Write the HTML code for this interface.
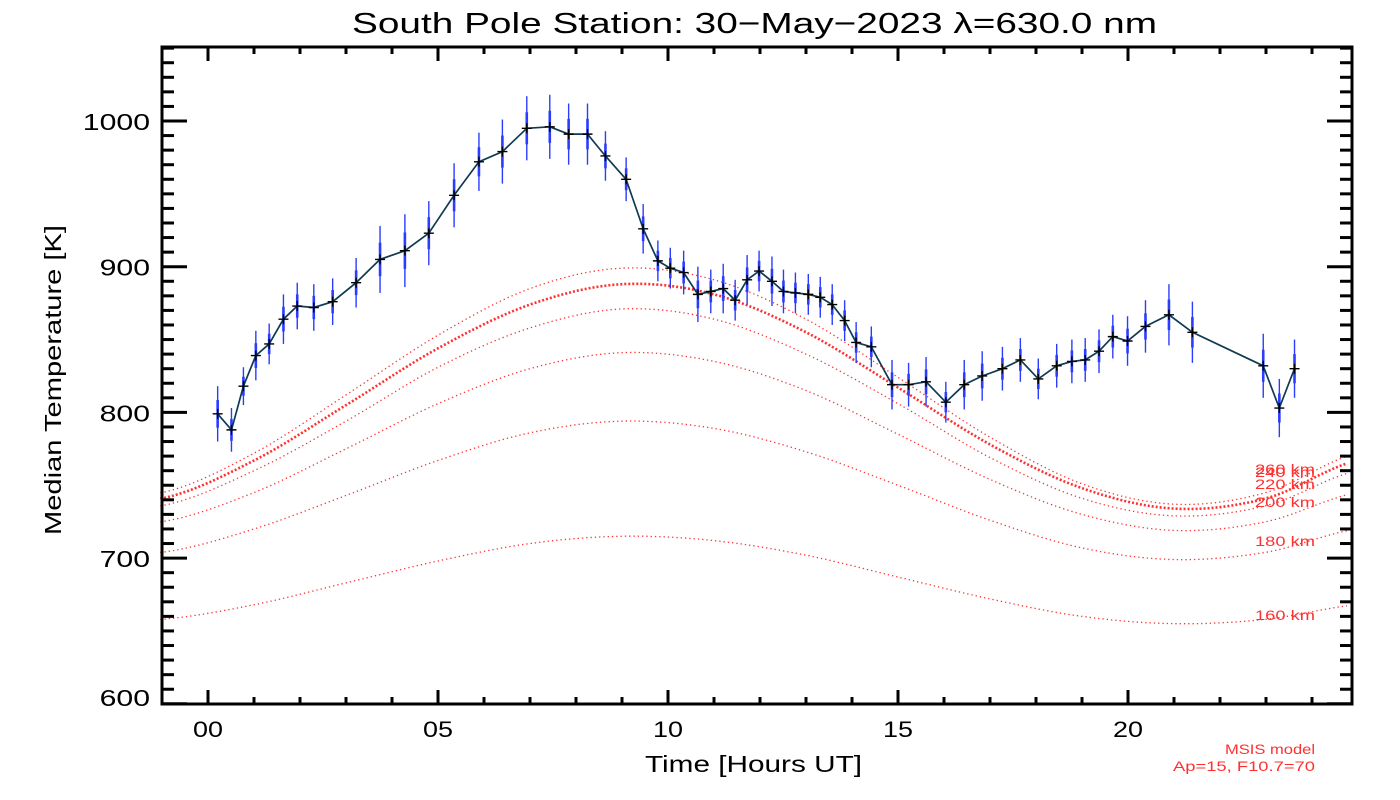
<!DOCTYPE html>
<html><head><meta charset="utf-8"><style>
html,body{margin:0;padding:0;background:#fff;}
svg{display:block;font-family:"Liberation Sans",sans-serif;}
</style></head><body>
<svg id="chart" width="1400" height="800" viewBox="0 0 1400 800" xmlns="http://www.w3.org/2000/svg">
<text x="352" y="33" font-size="29" textLength="805" lengthAdjust="spacingAndGlyphs" fill="#000">South Pole Station: 30−May−2023 λ=630.0 nm</text>
<text transform="translate(61,380) rotate(-90)" font-size="23" text-anchor="middle" textLength="310" lengthAdjust="spacingAndGlyphs" fill="#000">Median Temperature [K]</text>
<text x="645" y="772" font-size="23" textLength="217" lengthAdjust="spacingAndGlyphs" fill="#000">Time [Hours UT]</text>
<text x="1225" y="754" font-size="14" textLength="90" lengthAdjust="spacingAndGlyphs" fill="#ff3030">MSIS model</text>
<text x="1173" y="771" font-size="14" textLength="142" lengthAdjust="spacingAndGlyphs" fill="#ff3030">Ap=15, F10.7=70</text>
<g id="models"></g><g id="data"></g><g id="axes"></g>
</svg>
<script>
const hours=[0.21,0.51,0.77,1.04,1.33,1.64,1.94,2.30,2.71,3.22,3.74,4.28,4.80,5.35,5.89,6.40,6.93,7.43,7.84,8.25,8.64,9.09,9.46,9.78,10.05,10.34,10.65,10.93,11.20,11.46,11.72,11.98,12.26,12.51,12.77,13.05,13.31,13.57,13.84,14.09,14.42,14.87,15.23,15.61,16.04,16.44,16.83,17.27,17.66,18.05,18.45,18.78,19.07,19.37,19.67,19.99,20.38,20.89,21.40,22.94,23.29,23.62];
const temps=[799,788,818,839,847,864,873,872,876,889,905,911,923,949,972,979,995,996,991,991,976,960,926,904,899,896,881,883,885,877,891,897,890,883,882,881,879,874,863,848,845,819,819,821,807,819,825,830,836,823,832,835,836,842,852,849,859,867,855,832,803,830];
const errs=[19,15,13,17,14,17,16,16,16,17,23,25,22,22,20,22,22,22,21,21,17,15,17,14,14,15,19,15,17,14,17,14,17,15,14,14,14,14,14,14,14,17,15,17,14,17,17,15,15,14,15,15,15,15,15,17,18,21,21,22,20,20];
const modelHours=[-1,1,3,5,7,9,11,13,15,17,19,21,23,25];
const m160=[658,668,683,698,710,715,712,702,687,672,660,655,658,668];
const m180=[704,720,743,767,786,794,789,773,750,726,707,699,704,720];
const m200=[725,745,775,806,830,841,835,815,785,754,730,719,725,745];
const m220=[736,760,794,831,858,871,864,840,806,769,741,729,736,760];
const m240=[741,767,805,844,874,888,881,855,817,778,748,734,741,767];
const m260=[745,772,812,853,885,899,891,864,824,783,751,737,745,772];
const modelLabels=["160 km","180 km","200 km","220 km","240 km","260 km"];
const xTicks=["00","05","10","15","20"];
const yTicks=[600,700,800,900,1000];

const NS="http://www.w3.org/2000/svg";
const L=162,R=1352,T=47,B=704;
function xs(h){return 208+46*h;}
function ys(t){return 121+(1000-t)*1.457;}
function mk(tag,attrs,parent){const e=document.createElementNS(NS,tag);for(const k in attrs)e.setAttribute(k,attrs[k]);parent.appendChild(e);return e;}

const mg=document.getElementById('models');
const models=[m160,m180,m200,m220,m240,m260];
const labelY=[615,541,502,484,472,469];
models.forEach((vals,i)=>{
  const pts=[];
  for(let h=-1.04;h<=24.85;h+=0.1){
    let k=Math.min(modelHours.length-2,Math.max(0,Math.floor((h+1)/2)));
    const t=(h-modelHours[k])/2;
    const p0=vals[Math.max(0,k-1)],p1=vals[k],p2=vals[k+1],p3=vals[Math.min(vals.length-1,k+2)];
    const v=0.5*((2*p1)+(-p0+p2)*t+(2*p0-5*p1+4*p2-p3)*t*t+(-p0+3*p1-3*p2+p3)*t*t*t);
    pts.push(xs(h).toFixed(1)+','+ys(v).toFixed(1));
  }
  const pl=mk('polyline',{points:pts.join(' '),fill:'none',stroke:'#ff3030','stroke-width':i===4?2.6:1.3,'stroke-dasharray':i===4?'2 2':'1.3 3'},mg);
  
  
  const tx=mk('text',{x:1255,y:labelY[i]+5,'font-size':14,textLength:60,lengthAdjust:'spacingAndGlyphs',fill:'#ff3030'},mg);
  tx.textContent=modelLabels[i];
  
  
});

const dg=document.getElementById('data');
hours.forEach((h,i)=>{
  const x=xs(h);
  const b=mk('line',{x1:x,x2:x,y1:ys(temps[i]+errs[i]),y2:ys(temps[i]-errs[i]),stroke:'#2a3cff','stroke-width':1.4},dg);
  
  
  const b2=mk('line',{x1:x,x2:x,y1:ys(temps[i]+errs[i]*0.5),y2:ys(temps[i]-errs[i]*0.5),stroke:'#2a3cff','stroke-width':2.6},dg);
  
  
});
const line=mk('polyline',{points:hours.map((h,i)=>xs(h).toFixed(1)+','+ys(temps[i]).toFixed(1)).join(' '),fill:'none',stroke:'#0e3a52','stroke-width':1.7},dg);


hours.forEach((h,i)=>{
  const x=xs(h),y=ys(temps[i]);
  const p=mk('path',{d:`M${x-5},${y}H${x+5}M${x},${y-5}V${y+5}`,stroke:'#000','stroke-width':1.4},dg);
  
  
});

const ag=document.getElementById('axes');
const frame=mk('rect',{x:L,y:T,width:R-L,height:B-T,fill:'none',stroke:'#000','stroke-width':3},ag);


for(let h=0;h<=24;h++){
  const x=xs(h),len=h%5===0?14:7;
  mk('line',{x1:x,x2:x,y1:B,y2:B-len,stroke:'#000','stroke-width':3},ag);
  mk('line',{x1:x,x2:x,y1:T,y2:T+len,stroke:'#000','stroke-width':3},ag);
}
xTicks.forEach((lab,i)=>{
  const t=mk('text',{x:xs(i*5)-15,y:737,'font-size':22,textLength:30,lengthAdjust:'spacingAndGlyphs',fill:'#000'},ag);
  t.textContent=lab;
  
  
});
for(let v=600;v<=1050;v+=10){
  const y=ys(v),len=v%100===0?25:12;
  mk('line',{x1:L,x2:L+len,y1:y,y2:y,stroke:'#000','stroke-width':3},ag);
  mk('line',{x1:R,x2:R-len,y1:y,y2:y,stroke:'#000','stroke-width':3},ag);
}
yTicks.forEach(v=>{
  const w=String(v).length*16.8;
  const t=mk('text',{x:150-w,y:Math.min(ys(v)+9,706),'font-size':23,textLength:w,lengthAdjust:'spacingAndGlyphs',fill:'#000'},ag);
  t.textContent=v;
  
  
});
</script>
</body></html>
